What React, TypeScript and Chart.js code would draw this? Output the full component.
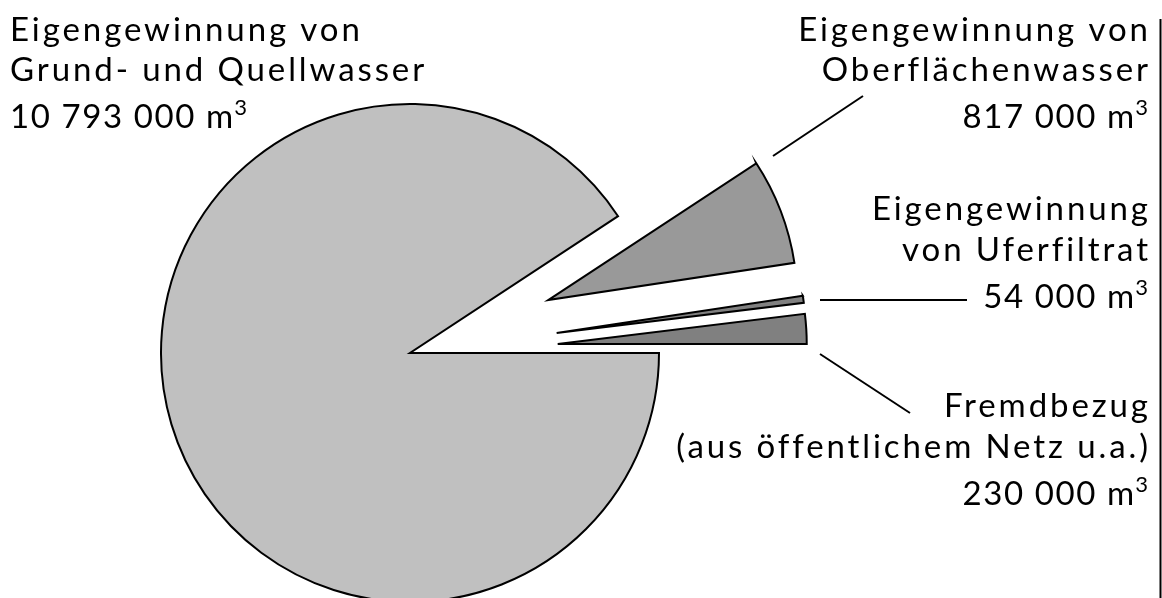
import React, { useEffect, useRef } from "react";
import { Chart, registerables } from "chart.js";

Chart.register(...registerables);

// ---- data ----
const categories = [
  "Eigengewinnung von Grund- und Quellwasser",
  "Eigengewinnung von Oberflächenwasser",
  "Eigengewinnung von Uferfiltrat",
  "Fremdbezug (aus öffentlichem Netz u.a.)",
];
const volumes = [10793000, 817000, 54000, 230000];
const unitLabel = "m³";
const labelTitleLines = [
  ["Eigengewinnung von", "Grund- und Quellwasser"],
  ["Eigengewinnung von", "Oberflächenwasser"],
  ["Eigengewinnung", "von Uferfiltrat"],
  ["Fremdbezug", "(aus öffentlichem Netz u.a.)"],
];

// ---- styles / layout ----
const sliceColors = ["#c0c0c0", "#999999", "#808080", "#808080"];
const explodeDistances = [0, 148, 148, 148];
const labelLayout = [
  { x: 10, align: "left", baselines: [41, 81, 128] },
  { x: 1148, align: "right", baselines: [41, 81, 128] },
  { x: 1148, align: "right", baselines: [220, 261, 308] },
  { x: 1148, align: "right", baselines: [417, 458, 505] },
];
const leaderLines = [
  null,
  [773, 156, 863, 96],
  [820, 300, 967, 300],
  [820, 354, 910, 413],
];
const FONT_FAMILY = "Lato, 'Noto Sans', sans-serif";
const MAIN_FONT = `33px ${FONT_FAMILY}`;
const SUP_FONT = `22px ${FONT_FAMILY}`;
const TEXT_SPACING = 2.9;
const VALUE_SPACING = 1.6;
const SUP_RAISE = 13;
const SUP_GAP = 1;

function formatVolume(v: number): string {
  return String(v).replace(/\B(?=(\d{3})+(?!\d))/g, " ");
}

const explodePlugin = {
  id: "explode",
  afterDatasetUpdate(chart: any, args: any) {
    const meta = chart.getDatasetMeta(args.index);
    meta.data.forEach((arc: any, i: number) => {
      const d = explodeDistances[i] || 0;
      const mid = (arc.startAngle + arc.endAngle) / 2;
      arc.x += Math.cos(mid) * d;
      arc.y += Math.sin(mid) * d;
    });
  },
};

const labelPlugin = {
  id: "sliceLabels",
  afterDraw(chart: any) {
    const ctx: CanvasRenderingContext2D = chart.ctx;
    ctx.save();
    ctx.fillStyle = "#000";
    ctx.textBaseline = "alphabetic";
    ctx.textAlign = "left";
    categories.forEach((_, i) => {
      const lay = labelLayout[i];
      const lines = [...labelTitleLines[i], `${formatVolume(volumes[i])} ${unitLabel}`];
      lines.forEach((t, j) => {
        const y = lay.baselines[j];
        const supIdx = t.indexOf("³");
        let main = t;
        let sup = "";
        if (supIdx >= 0) {
          main = t.slice(0, supIdx);
          sup = "3";
        }
        const ls = sup ? VALUE_SPACING : TEXT_SPACING;
        (ctx as any).letterSpacing = `${ls}px`;
        ctx.font = MAIN_FONT;
        const mw = ctx.measureText(main).width - ls;
        ctx.font = SUP_FONT;
        const sw = sup ? ctx.measureText(sup).width - ls + SUP_GAP : 0;
        const x0 = lay.align === "left" ? lay.x : lay.x - mw - sw;
        ctx.font = MAIN_FONT;
        ctx.fillText(main, x0, y);
        if (sup) {
          ctx.font = SUP_FONT;
          ctx.fillText(sup, x0 + mw + SUP_GAP, y - SUP_RAISE);
        }
      });
      const l = leaderLines[i];
      if (l) {
        ctx.strokeStyle = "#000";
        ctx.lineWidth = 2;
        ctx.beginPath();
        ctx.moveTo(l[0], l[1]);
        ctx.lineTo(l[2], l[3]);
        ctx.stroke();
      }
    });
    // right frame line
    ctx.strokeStyle = "#000";
    ctx.lineWidth = 2;
    ctx.beginPath();
    ctx.moveTo(1160.5, 19);
    ctx.lineTo(1160.5, 598);
    ctx.stroke();
    ctx.restore();
  },
};

export default function App() {
  const canvasRef = useRef<HTMLCanvasElement | null>(null);
  useEffect(() => {
    if (!canvasRef.current) return;
    const chart = new Chart(canvasRef.current, {
      type: "pie",
      data: {
        labels: categories,
        datasets: [
          {
            data: volumes,
            backgroundColor: sliceColors,
            borderColor: "#000",
            borderWidth: 2,
            borderJoinStyle: "miter",
            radius: 249,
            clip: false,
          } as any,
        ],
      },
      options: {
        animation: false,
        responsive: false,
        rotation: 90,
        events: [],
        layout: { padding: { left: 0, right: 342, top: 108, bottom: 0 } },
        plugins: { legend: { display: false }, tooltip: { enabled: false } },
      } as any,
      plugins: [explodePlugin, labelPlugin],
    });
    return () => chart.destroy();
  }, []);
  return (
    <div style={{ position: "absolute", left: 0, top: 0, width: 1162, height: 598, background: "#fff" }}>
      <canvas ref={canvasRef} width={1162} height={598} style={{ display: "block" }} />
    </div>
  );
}
